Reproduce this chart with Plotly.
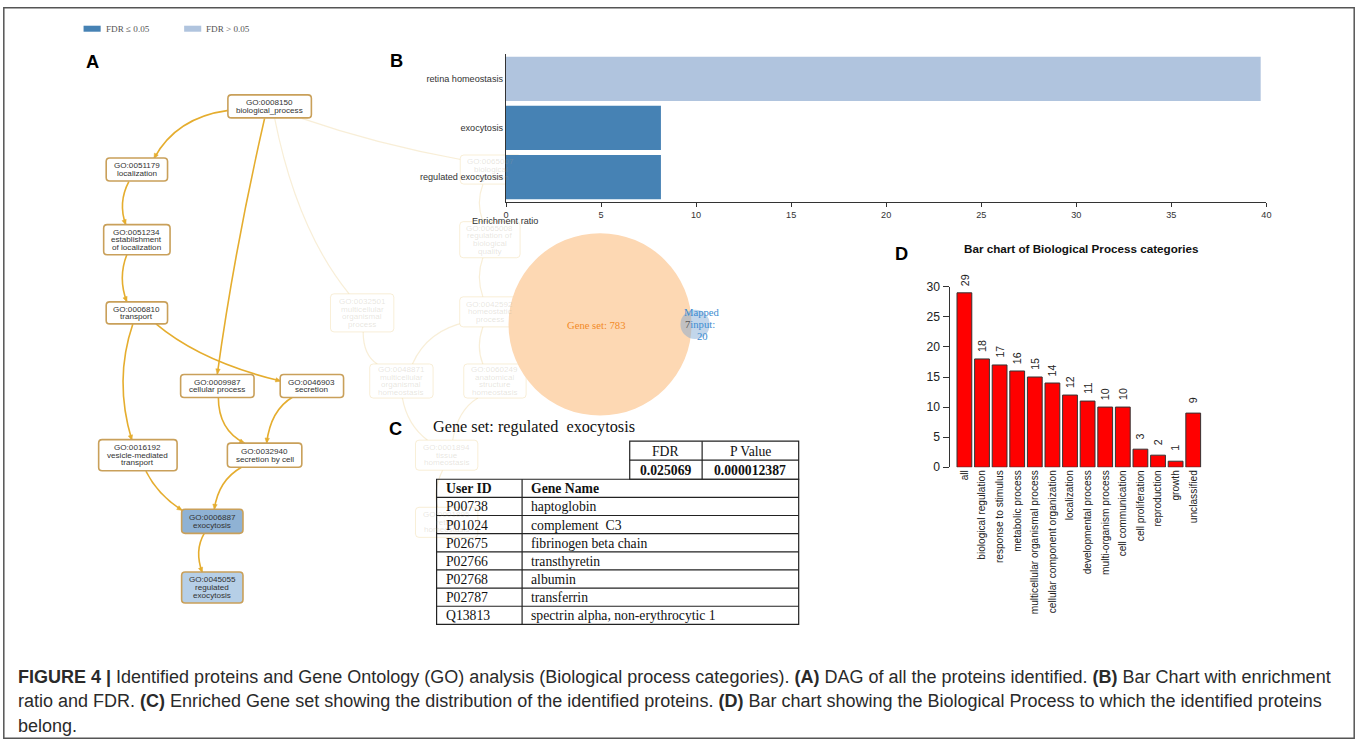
import math
import plotly.graph_objects as go

W, H = 1360, 746
# The rendered page adds an 8px body margin and is then fitted back into the
# 1360x746 frame; these factors map figure pixels to final picture pixels.
BODY = 8
KX = (W + 2 * BODY) / W
KY = (H + 2 * BODY) / H
FS = 1.015  # font compensation for the fit


def fx(px):
    return (px * KX - BODY) / W


def fy(py):
    return 1 - (py * KY - BODY) / H


# ---------------- data ----------------
# (B) enrichment ratio per GO term, with FDR significance
enrich_terms = ["retina homeostasis", "exocytosis", "regulated exocytosis"]
enrich_ratio = [39.7, 8.15, 8.15]
enrich_fdr_ok = [False, True, True]

# (C) gene set overlap and member proteins
gene_set_name = "regulated  exocytosis"
gene_set_size = 783
mapped_input = 20
mapped_overlap = 7
fdr_value = "0.025069"
p_value = "0.000012387"
user_ids = ["P00738", "P01024", "P02675", "P02766", "P02768", "P02787", "Q13813"]
gene_names = ["haptoglobin", "complement  C3", "fibrinogen beta chain", "transthyretin",
              "albumin", "transferrin", "spectrin alpha, non-erythrocytic 1"]

# (D) biological process categories
bp_categories = ["all", "biological regulation", "response to stimulus", "metabolic process",
                 "multicellular organismal process", "cellular component organization",
                 "localization", "developmental process", "multi-organism process",
                 "cell communication", "cell proliferation", "reproduction", "growth",
                 "unclassified"]
bp_counts = [29, 18, 17, 16, 15, 14, 12, 11, 10, 10, 3, 2, 1, 9]

# (A) GO DAG: terms, highlighted path and edges
go_ids = ["GO:0008150", "GO:0051179", "GO:0051234", "GO:0006810", "GO:0009987",
          "GO:0046903", "GO:0016192", "GO:0032940", "GO:0006887", "GO:0045055",
          "GO:0065007", "GO:0065008", "GO:0032501", "GO:0042592", "GO:0048871",
          "GO:0060249", "GO:0001894", "GO:0001895"]
go_names = ["biological_process", "localization", "establishment\nof localization", "transport",
            "cellular process", "secretion", "vesicle-mediated\ntransport", "secretion by cell",
            "exocytosis", "regulated\nexocytosis", "biological\nregulation",
            "regulation of\nbiological\nquality", "multicellular\norganismal\nprocess",
            "homeostatic\nprocess", "multicellular\norganismal\nhomeostasis",
            "anatomical\nstructure\nhomeostasis", "tissue\nhomeostasis", "retina\nhomeostasis"]
go_on_path = [True] * 10 + [False] * 8
go_edges = [("GO:0008150", "GO:0051179"), ("GO:0008150", "GO:0009987"),
            ("GO:0051179", "GO:0051234"), ("GO:0051234", "GO:0006810"),
            ("GO:0006810", "GO:0016192"), ("GO:0006810", "GO:0046903"),
            ("GO:0009987", "GO:0032940"), ("GO:0046903", "GO:0032940"),
            ("GO:0016192", "GO:0006887"), ("GO:0032940", "GO:0006887"),
            ("GO:0006887", "GO:0045055"),
            ("GO:0008150", "GO:0032501"), ("GO:0008150", "GO:0065007"),
            ("GO:0065007", "GO:0065008"), ("GO:0065008", "GO:0042592"),
            ("GO:0042592", "GO:0048871"), ("GO:0042592", "GO:0060249"),
            ("GO:0032501", "GO:0048871"), ("GO:0048871", "GO:0001894"),
            ("GO:0060249", "GO:0001894"), ("GO:0001894", "GO:0001895")]

# ---------------- layout of the DAG (picture pixel positions) ----------------
node_box = {  # cx, cy, w, h
    "GO:0008150": (273, 107, 83, 23), "GO:0051179": (141, 170, 61, 23),
    "GO:0051234": (141, 240, 66, 30), "GO:0006810": (141, 313, 61, 22),
    "GO:0009987": (221, 386, 73, 23), "GO:0046903": (315, 386, 63, 23),
    "GO:0016192": (142, 455, 78, 31), "GO:0032940": (268, 455, 74, 24),
    "GO:0006887": (216, 521, 61, 24), "GO:0045055": (216, 587, 61, 31),
    "GO:0065007": (493, 170, 61, 29), "GO:0065008": (492, 240, 60, 36),
    "GO:0032501": (365, 313, 63, 38), "GO:0042592": (492, 312, 60, 30),
    "GO:0048871": (404, 381, 63, 34), "GO:0060249": (497, 381, 62, 34),
    "GO:0001894": (449, 455, 62, 30), "GO:0001895": (449, 522, 62, 30),
}
edge_geom = {  # start, control, end
    ("GO:0008150", "GO:0051179"): ((232, 111), (180, 118), (158, 159)),
    ("GO:0008150", "GO:0009987"): ((268, 119), (238, 250), (221, 374)),
    ("GO:0051179", "GO:0051234"): ((133, 182), (122, 203), (130, 225)),
    ("GO:0051234", "GO:0006810"): ((131, 255), (122, 278), (131, 302)),
    ("GO:0006810", "GO:0016192"): ((137, 324), (118, 380), (136, 440)),
    ("GO:0006810", "GO:0046903"): ((160, 324), (205, 362), (284, 381)),
    ("GO:0009987", "GO:0032940"): ((222, 397), (222, 430), (248, 443)),
    ("GO:0046903", "GO:0032940"): ((296, 397), (274, 410), (270, 443)),
    ("GO:0016192", "GO:0006887"): ((150, 471), (162, 495), (186, 510)),
    ("GO:0032940", "GO:0006887"): ((245, 467), (222, 480), (218, 509)),
    ("GO:0006887", "GO:0045055"): ((208, 533), (198, 550), (206, 572)),
    ("GO:0008150", "GO:0032501"): ((278, 119), (300, 230), (352, 294)),
    ("GO:0008150", "GO:0065007"): ((305, 119), (380, 145), (463, 160)),
    ("GO:0065007", "GO:0065008"): ((485, 185), (478, 203), (485, 222)),
    ("GO:0065008", "GO:0042592"): ((485, 258), (478, 277), (485, 297)),
    ("GO:0042592", "GO:0048871"): ((470, 322), (430, 330), (415, 364)),
    ("GO:0042592", "GO:0060249"): ((485, 327), (478, 347), (485, 364)),
    ("GO:0032501", "GO:0048871"): ((366, 332), (366, 355), (380, 364)),
    ("GO:0048871", "GO:0001894"): ((405, 398), (410, 425), (430, 440)),
    ("GO:0060249", "GO:0001894"): ((480, 398), (460, 410), (455, 440)),
    ("GO:0001894", "GO:0001895"): ((445, 470), (435, 490), (440, 507)),
}

GOLD = "#e5ad2e"
NODE_EDGE = "#c9a05a"
FADE_LINE = "rgba(236,205,140,0.35)"
FADE_TEXT = "rgba(170,160,140,0.28)"
SANS = "Liberation Sans, Arial, sans-serif"
SERIF = "Liberation Serif, Times New Roman, serif"

shapes = []
annotations = []


def txt(x, y, s, size, color="#222", family=SANS, xanchor="center", yanchor="middle", **kw):
    annotations.append(dict(x=x, y=y, xref="x", yref="y", text=s, showarrow=False,
                            xanchor=xanchor, yanchor=yanchor,
                            font=dict(size=size * FS, color=color, family=family), **kw))


def rrect(cx, cy, w, h, r=3.5):
    x0, x1, y0, y1 = cx - w / 2, cx + w / 2, cy - h / 2, cy + h / 2
    return (f"M{x0 + r},{y0} L{x1 - r},{y0} Q{x1},{y0} {x1},{y0 + r} L{x1},{y1 - r} "
            f"Q{x1},{y1} {x1 - r},{y1} L{x0 + r},{y1} Q{x0},{y1} {x0},{y1 - r} "
            f"L{x0},{y0 + r} Q{x0},{y0} {x0 + r},{y0} Z")


# ---- DAG edges ----
for (a, b) in go_edges:
    (x0, y0), (cx, cy), (x1, y1) = edge_geom[(a, b)]
    strong = go_on_path[go_ids.index(a)] and go_on_path[go_ids.index(b)]
    col = GOLD if strong else FADE_LINE
    shapes.append(dict(type="path", xref="x", yref="y", layer="below",
                       path=f"M{x0},{y0} Q{cx},{cy} {x1},{y1}",
                       line=dict(color=col, width=1.6 if strong else 1.2)))
    if strong:
        dx, dy = x1 - cx, y1 - cy
        n = math.hypot(dx, dy)
        dx, dy = dx / n, dy / n
        px, py = -dy, dx
        L, hw = 5, 2.2
        tri = (f"M{x1},{y1} L{x1 - dx * L + px * hw},{y1 - dy * L + py * hw} "
               f"L{x1 - dx * L - px * hw},{y1 - dy * L - py * hw} Z")
        shapes.append(dict(type="path", xref="x", yref="y", layer="below", path=tri,
                           fillcolor=GOLD, line=dict(color=GOLD, width=0.5)))

# ---- DAG nodes ----
node_fill = {"GO:0006887": "#8fb2d4", "GO:0045055": "#b6cfe7"}
for gid, name, strong in zip(go_ids, go_names, go_on_path):
    cx, cy, w, h = node_box[gid]
    shapes.append(dict(type="path", xref="x", yref="y", layer="below", path=rrect(cx, cy, w, h),
                       fillcolor=node_fill.get(gid, "white"),
                       line=dict(color=NODE_EDGE if strong else FADE_LINE,
                                 width=1.6 if strong else 1.0)))
    lines = [gid] + name.split("\n")
    for i, ln in enumerate(lines):
        txt(cx, cy + (i - (len(lines) - 1) / 2) * 7.6, ln, 8,
            color="#333" if strong else FADE_TEXT)

# ---- legend for (B) ----
shapes.append(dict(type="rect", xref="x", yref="y", x0=88, x1=105, y0=26.5, y1=32.5,
                   fillcolor="#4682b4", line=dict(width=0)))
shapes.append(dict(type="rect", xref="x", yref="y", x0=188, x1=205, y0=26.5, y1=32.5,
                   fillcolor="#b0c4de", line=dict(width=0)))
txt(108, 29.5, "FDR ≤ 0.05", 9, color="#555", family=SERIF, xanchor="left")
txt(208, 29.5, "FDR > 0.05", 9, color="#555", family=SERIF, xanchor="left")

# ---- panel letters ----
for lab, x, y in [("A", 88, 62), ("B", 391, 61), ("C", 390, 428), ("D", 893, 254)]:
    txt(x, y, f"<b>{lab}</b>", 18, color="#000", xanchor="left")

txt(507, 221, "Enrichment ratio", 9, color="#333")

# ---- (C) Venn ----
r_big = 91.0
r_small = r_big * math.sqrt(mapped_input / gene_set_size)
cxb, cyb = 601.5, 324.5
cxs = 696.0
shapes.append(dict(type="circle", xref="x", yref="y", layer="below",
                   x0=cxb - r_big, x1=cxb + r_big, y0=cyb - r_big, y1=cyb + r_big,
                   fillcolor="#fdd8b3", line=dict(width=0)))
shapes.append(dict(type="circle", xref="x", yref="y", layer="below",
                   x0=cxs - r_small, x1=cxs + r_small, y0=cyb - r_small, y1=cyb + r_small,
                   fillcolor="rgba(120,165,210,0.45)", line=dict(width=0)))
txt(cxb - 4, cyb + 1, f"Gene set: {gene_set_size}", 10.5, color="#f28a26", family=SERIF)
txt(703, 313, "Mapped", 10.5, color="#3b8cd0", family=SERIF)
txt(701, 325, f"<span style='color:#555'>{mapped_overlap}</span>input:", 10.5,
    color="#3b8cd0", family=SERIF)
txt(703, 337, f"{mapped_input}", 10.5, color="#3b8cd0", family=SERIF)

# ---- (C) tables ----
txt(433, 427, f"Gene set: {gene_set_name}", 16, color="#111", family=SERIF, xanchor="left")
TL = dict(color="#222", width=1.2)
# FDR / P value table
sx0, sxm, sx1, sy0, sym, sy1 = 631, 703, 799, 441, 460, 479
shapes.append(dict(type="rect", xref="x", yref="y", x0=sx0, x1=sx1, y0=sy0, y1=sy1, line=TL))
shapes.append(dict(type="line", xref="x", yref="y", x0=sxm, x1=sxm, y0=sy0, y1=sy1, line=TL))
shapes.append(dict(type="line", xref="x", yref="y", x0=sx0, x1=sx1, y0=sym, y1=sym, line=TL))
txt((sx0 + sxm) / 2, (sy0 + sym) / 2 + 1, "FDR", 13.5, color="#111", family=SERIF)
txt((sxm + sx1) / 2, (sy0 + sym) / 2 + 1, "P Value", 13.5, color="#111", family=SERIF)
txt((sx0 + sxm) / 2, (sym + sy1) / 2 + 1, f"<b>{fdr_value}</b>", 13.5, color="#111", family=SERIF)
txt((sxm + sx1) / 2, (sym + sy1) / 2 + 1, f"<b>{p_value}</b>", 13.5, color="#111", family=SERIF)
# protein table
tx0, txm, tx1, ty0 = 439, 524, 799, 479
row_h = 18.1
n_rows = len(user_ids) + 1
ty1 = ty0 + n_rows * row_h
shapes.append(dict(type="rect", xref="x", yref="y", x0=tx0, x1=tx1, y0=ty0, y1=ty1, line=TL))
shapes.append(dict(type="line", xref="x", yref="y", x0=txm, x1=txm, y0=ty0, y1=ty1, line=TL))
for i in range(1, n_rows):
    yy = ty0 + i * row_h
    shapes.append(dict(type="line", xref="x", yref="y", x0=tx0, x1=tx1, y0=yy, y1=yy, line=TL))
rows = [("<b>User ID</b>", "<b>Gene Name</b>")] + list(zip(user_ids, gene_names))
for i, (a, b) in enumerate(rows):
    yc = ty0 + (i + 0.5) * row_h + 0.5
    txt(446, yc, a, 13.5, color="#111", family=SERIF, xanchor="left")
    txt(531, yc, b, 13.5, color="#111", family=SERIF, xanchor="left")

# ---- (D) title ----
txt(1080, 249, "<b>Bar chart of Biological Process categories</b>", 11.5, color="#111")

# ---- caption ----
cap_lines = [
    "<b>FIGURE 4 |</b> Identified proteins and Gene Ontology (GO) analysis (Biological process "
    "categories). <b>(A)</b> DAG of all the proteins identified. <b>(B)</b> Bar Chart with enrichment",
    "ratio and FDR. <b>(C)</b> Enriched Gene set showing the distribution of the identified "
    "proteins. <b>(D)</b> Bar chart showing the Biological Process to which the identified proteins",
    "belong.",
]
for i, s in enumerate(cap_lines):
    txt(21, 676 + i * 24.7, s, 17.75, color="#2a2a2a", xanchor="left")

# ---- outer frame ----
shapes.append(dict(type="rect", xref="x", yref="y", x0=8.7, x1=1351.3, y0=8.7, y1=737.3,
                   line=dict(color="#555", width=1.5)))

# ---------------- figure ----------------
fig = go.Figure()
# full-canvas pixel axes for the drawn panels
fig.add_trace(go.Scatter(x=[20], y=[20], mode="markers", marker=dict(opacity=0),
                         hoverinfo="skip", showlegend=False, xaxis="x", yaxis="y"))

# (B) horizontal bars
fig.add_trace(go.Bar(
    x=enrich_ratio, y=enrich_terms, orientation="h", xaxis="x2", yaxis="y2",
    marker=dict(color=["#4682b4" if ok else "#b0c4de" for ok in enrich_fdr_ok], line=dict(width=0)),
    hoverinfo="skip", showlegend=False))

# (D) vertical bars
fig.add_trace(go.Bar(
    x=bp_categories, y=bp_counts, xaxis="x3", yaxis="y3", width=0.84,
    marker=dict(color="#ff0000", line=dict(color="#333", width=1)),
    hoverinfo="skip", showlegend=False))
for c, v in zip(bp_categories, bp_counts):
    annotations.append(dict(x=c, y=v, xref="x3", yref="y3", text=str(v), showarrow=False,
                            textangle=-90, yshift=13, xanchor="center", yanchor="middle",
                            font=dict(size=10.5 * FS, color="#222", family=SANS)))

x_lo, x_hi = BODY / KX, (W + BODY) / KX
y_lo, y_hi = BODY / KY, (H + BODY) / KY

fig.update_layout(
    width=W, height=H, margin=dict(l=0, r=0, t=0, b=0),
    paper_bgcolor="white", plot_bgcolor="rgba(0,0,0,0)",
    bargap=0.1, showlegend=False,
    xaxis=dict(range=[x_lo, x_hi], domain=[0, 1], visible=False, fixedrange=True),
    yaxis=dict(range=[y_hi, y_lo], domain=[0, 1], visible=False, fixedrange=True),
    xaxis2=dict(domain=[fx(508), fx(1264)], anchor="y2", range=[0, 40],
                tickvals=list(range(0, 45, 5)), showgrid=False, zeroline=False,
                showline=True, linecolor="#333", linewidth=1, ticks="outside", ticklen=4,
                tickcolor="#333", tickfont=dict(size=9 * FS, color="#333", family=SANS)),
    yaxis2=dict(domain=[fy(202), fy(55)], anchor="x2",
                categoryorder="array", categoryarray=enrich_terms[::-1],
                showgrid=False, zeroline=False, showline=True, linecolor="#333",
                linewidth=1.2, ticks="", tickfont=dict(size=9 * FS, color="#333", family=SANS)),
    xaxis3=dict(domain=[fx(955), fx(1200)], anchor="y3", type="category",
                range=[-0.5, len(bp_categories) - 0.5], showgrid=False, zeroline=False,
                showline=False, ticks="", tickangle=-90,
                tickfont=dict(size=10 * FS, color="#222", family=SANS)),
    yaxis3=dict(domain=[fy(467), fy(287)], anchor="free", position=fx(948),
                range=[0, 30], tickvals=list(range(0, 35, 5)), showgrid=False,
                zeroline=False, showline=True, linecolor="#333", linewidth=1,
                ticks="outside", ticklen=6, tickcolor="#333",
                tickfont=dict(size=12 * FS, color="#222", family=SANS)),
    shapes=shapes, annotations=annotations,
)

fig.write_html("out.html")
